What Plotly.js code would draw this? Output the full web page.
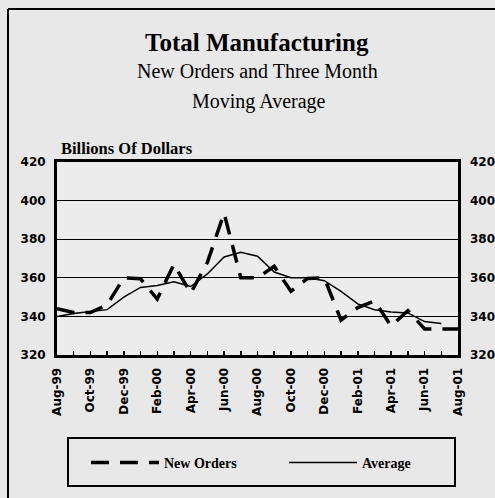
<!DOCTYPE html>
<html>
<head>
<meta charset="utf-8">
<script src="https://cdn.plot.ly/plotly-3.0.1.min.js"></script>
<style>
html,body{margin:0;padding:0;background:#e8e8e8;}
#chart{width:495px;height:498px;}
</style>
</head>
<body>
<div id="chart"></div>
<script>
var months = ["Aug-99","Sep-99","Oct-99","Nov-99","Dec-99","Jan-00","Feb-00","Mar-00","Apr-00","May-00","Jun-00","Jul-00","Aug-00","Sep-00","Oct-00","Nov-00","Dec-00","Jan-01","Feb-01","Mar-01","Apr-01","May-01","Jun-01","Jul-01","Aug-01"];
var newOrders = [344, 342, 342, 346, 360, 359.5, 349, 367, 352, 368, 393.5, 360, 360, 366, 353, 359.7, 360, 338, 344.6, 348, 335, 343, 333.5, 333.5, 333.5];
var average = [340, 341.5, 342.5, 343.5, 350, 355, 356, 358, 355.5, 362, 370.8, 373.2, 371.2, 363, 360, 360, 358.5, 353, 346.5, 343.5, 342.3, 341.8, 337.3, 336.3, null];
var tickLabels = ["Aug-99","","Oct-99","","Dec-99","","Feb-00","","Apr-00","","Jun-00","","Aug-00","","Oct-00","","Dec-00","","Feb-01","","Apr-01","","Jun-01","","Aug-01"];
var yTicks = [320, 340, 360, 380, 400, 420];

// pixel helpers (plot area 57..458 x, 162..355 y)
var W = 495, H = 498;
var L = 57, R = 458, T = 162, B = 355;
function px(x){ return (x - L) / (R - L); }
function py(y){ return (B - y) / (B - T); }

var serif = "Liberation Serif, Times New Roman, serif";
var sans = "DejaVu Sans, sans-serif";

var traces = [
  {x: months, y: newOrders, name: "New Orders", type: "scatter", mode: "lines",
   line: {color: "#000", width: 3.5, dash: "18px,11px"}},
  {x: months, y: average, name: "Average", type: "scatter", mode: "lines", yaxis: "y2",
   line: {color: "#000", width: 1.5}, connectgaps: false}
];

var layout = {
  width: W, height: H,
  margin: {l: L, r: W - R, t: T, b: H - B, pad: 0},
  paper_bgcolor: "#e8e8e8",
  plot_bgcolor: "#ececec",
  showlegend: true,
  legend: {orientation: "h", xref: "container", yref: "container",
           x: 86 / W, xanchor: "left", y: 1 - 463 / H, yanchor: "middle",
           bgcolor: "rgba(0,0,0,0)", borderwidth: 0, entrywidth: 115, itemwidth: 68,
           font: {family: serif, size: 14, color: "#000", weight: "bold"}},
  xaxis: {type: "category", range: [0, 24], tickmode: "array", tickvals: months, ticktext: tickLabels,
          tickangle: -90, ticks: "inside", ticklen: 4, tickwidth: 1.5, tickcolor: "#000",
          showline: true, linecolor: "#000", linewidth: 3, mirror: true, showgrid: false,
          ticklabelstandoff: 5,
          tickfont: {family: sans, size: 12, color: "#000", weight: "bold"}, fixedrange: true},
  yaxis: {range: [320, 420], tickmode: "array", tickvals: yTicks, ticks: "",
          showline: true, linecolor: "#000", linewidth: 3, mirror: true,
          showgrid: true, gridcolor: "#000", gridwidth: 1, zeroline: false,
          ticklabelstandoff: 6,
          tickfont: {family: sans, size: 12, color: "#000", weight: "bold"}},
  yaxis2: {range: [320, 420], tickmode: "array", tickvals: yTicks, overlaying: "y", side: "right",
           showgrid: false, zeroline: false, showline: false, ticks: "", ticklabelstandoff: 11,
           tickfont: {family: sans, size: 12, color: "#000", weight: "bold"}},
  annotations: [
    {text: "Total Manufacturing", xref: "paper", yref: "paper", x: px(256.5), y: py(42),
     xanchor: "center", yanchor: "middle", showarrow: false,
     font: {family: serif, size: 25, color: "#000", weight: "bold"}},
    {text: "New Orders and Three Month", xref: "paper", yref: "paper", x: px(257), y: py(71),
     xanchor: "center", yanchor: "middle", showarrow: false,
     font: {family: serif, size: 20, color: "#000"}},
    {text: "Moving Average", xref: "paper", yref: "paper", x: px(259), y: py(101),
     xanchor: "center", yanchor: "middle", showarrow: false,
     font: {family: serif, size: 20, color: "#000"}},
    {text: "Billions Of Dollars", xref: "paper", yref: "paper", x: px(59), y: py(148),
     xanchor: "left", yanchor: "middle", showarrow: false,
     font: {family: serif, size: 16.5, color: "#000", weight: "bold"}}
  ],
  shapes: [
    {type: "rect", xref: "paper", yref: "paper", x0: px(68), x1: px(455), y0: py(486), y1: py(438),
     line: {color: "#000", width: 2}},
    {type: "line", xref: "paper", yref: "paper", x0: px(8), x1: px(500), y0: py(9), y1: py(9),
     line: {color: "#000", width: 2}},
    {type: "line", xref: "paper", yref: "paper", x0: px(8), x1: px(8), y0: py(9), y1: py(505),
     line: {color: "#000", width: 2}}
  ]
};

Plotly.newPlot("chart", traces, layout, {staticPlot: true, displayModeBar: false});
</script>
</body>
</html>
